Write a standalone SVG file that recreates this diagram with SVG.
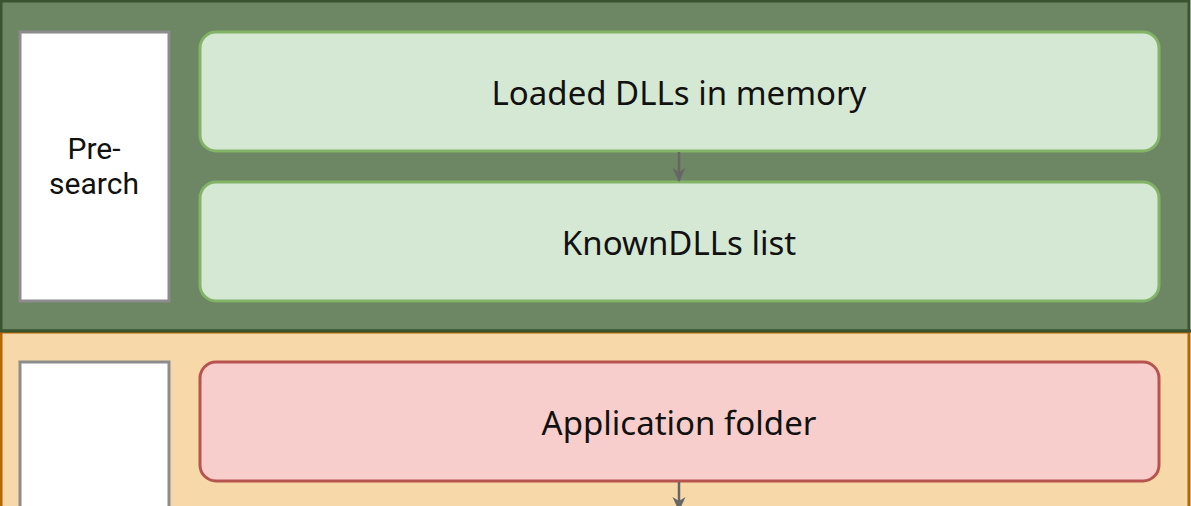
<svg xmlns="http://www.w3.org/2000/svg" width="1191" height="506" viewBox="0 0 1191 506">
<style>
.lbl{font-family:"Noto Sans","Open Sans",sans-serif;font-size:33px;fill:#111;text-anchor:middle}
.side{font-family:Roboto,"Liberation Sans",sans-serif;font-size:30px;fill:#111;text-anchor:middle}
.sidebox{fill:#fff;stroke:#8c8c8c;stroke-width:3}
.green{fill:#d5e8d4;stroke:#82b366;stroke-width:3}
.red{fill:#f8cecc;stroke:#b85450;stroke-width:3}
.conn{stroke:#666;stroke-width:2.5;fill:none}
</style>
<defs>
<marker id="arr" markerWidth="16" markerHeight="16" refX="13" refY="8" orient="auto" markerUnits="userSpaceOnUse">
<path d="M0,1.5 L14,8 L0,14.5 L4,8 Z" fill="#666"/>
</marker>
</defs>
<g id="presearch-lane">
<rect x="1" y="1" width="1188" height="330" fill="#6d8764" stroke="#3a5431" stroke-width="3"/>
</g>
<g id="search-lane">
<rect x="1" y="332" width="1188" height="180" fill="#f7d8a8" stroke="#b46504" stroke-width="3"/>
<line x1="0" y1="331" x2="1191" y2="331" stroke="#3a5431" stroke-width="3"/>
</g>
<g id="presearch-label">
<rect class="sidebox" x="20" y="32" width="149" height="269"/>
<text class="side" x="94" y="159">Pre-</text>
<text class="side" x="94" y="194">search</text>
</g>
<g id="search-label">
<rect class="sidebox" x="20" y="362" width="149" height="160"/>
</g>
<g id="loaded">
<rect class="green" x="200" y="32" width="959" height="119" rx="16"/>
<text class="lbl" x="679" y="105">Loaded DLLs in memory</text>
</g>
<g id="knowndlls">
<rect class="green" x="200" y="182" width="959" height="119" rx="16"/>
<text class="lbl" x="679" y="255">KnownDLLs list</text>
</g>
<g id="appfolder">
<rect class="red" x="200" y="362" width="959" height="119" rx="16"/>
<text class="lbl" x="679" y="435">Application folder</text>
</g>
<g id="connectors">
<line class="conn" x1="679" y1="152" x2="679" y2="181" marker-end="url(#arr)"/>
<line class="conn" x1="679" y1="482" x2="679" y2="510" marker-end="url(#arr)"/>
</g>
</svg>
